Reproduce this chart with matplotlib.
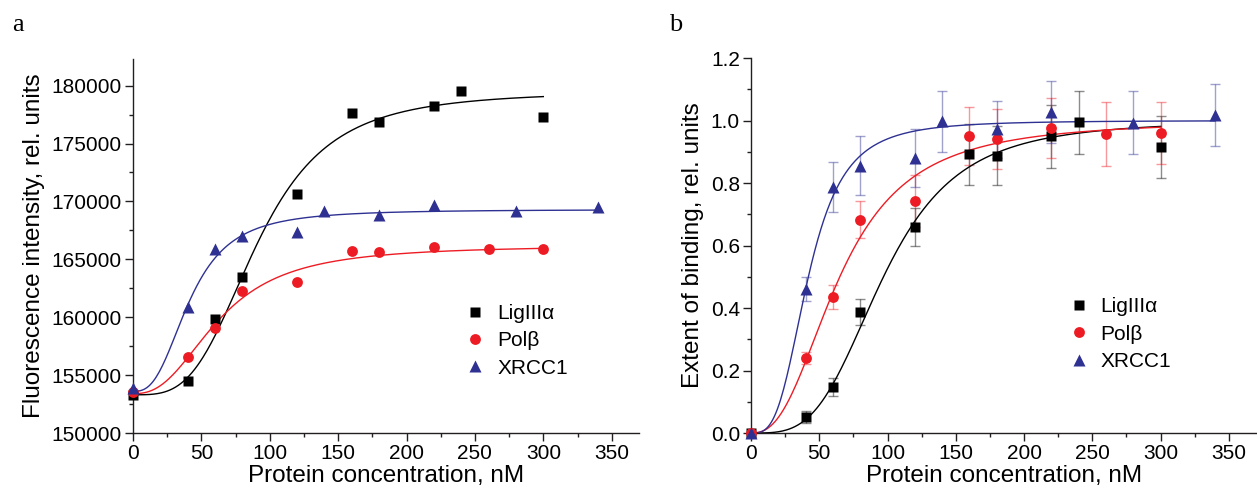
"""Binding of LigIIIa, Polb and XRCC1 to DNA: raw fluorescence (a) and extent of binding (b)."""

import matplotlib
matplotlib.use("Agg")
import matplotlib.pyplot as plt
import numpy as np
from matplotlib.ticker import MultipleLocator, FormatStrFormatter

plt.rcParams["font.family"] = ["Liberation Sans", "DejaVu Sans"]

SERIES = ["LigIII\u03b1", "Pol\u03b2", "XRCC1"]

# panel a: fluorescence intensity, rel. units
LIG_X_A = [0, 40, 60, 80, 120, 160, 180, 220, 240, 300]
LIG_Y_A = [153300, 154500, 159850, 163450, 170650, 177600, 176900, 178200, 179550, 177250]
POL_X_A = [0, 40, 60, 80, 120, 160, 180, 220, 260, 300]
POL_Y_A = [153500, 156600, 159100, 162300, 163050, 165750, 165650, 166050, 165850, 165900]
XRC_X_A = [0, 40, 60, 80, 120, 140, 180, 220, 280, 340]
XRC_Y_A = [153850, 160900, 165900, 167000, 167400, 169150, 168850, 169700, 169150, 169550]

# panel b: extent of binding, rel. units (mean, error)
LIG_X_B = [0, 40, 60, 80, 120, 160, 180, 220, 240, 300]
LIG_Y_B = [0.0, 0.052, 0.148, 0.387, 0.660, 0.892, 0.888, 0.949, 0.994, 0.915]
LIG_E_B = [0.0, 0.019, 0.029, 0.041, 0.060, 0.098, 0.094, 0.100, 0.100, 0.099]
POL_X_B = [0, 40, 60, 80, 120, 160, 180, 220, 260, 300]
POL_Y_B = [0.0, 0.239, 0.435, 0.682, 0.743, 0.951, 0.941, 0.975, 0.957, 0.959]
POL_E_B = [0.0, 0.019, 0.039, 0.059, 0.083, 0.093, 0.097, 0.096, 0.101, 0.099]
XRC_X_B = [0, 40, 60, 80, 120, 140, 180, 220, 280, 340]
XRC_Y_B = [0.0, 0.460, 0.786, 0.856, 0.881, 0.998, 0.972, 1.026, 0.993, 1.018]
XRC_E_B = [0.0, 0.038, 0.080, 0.095, 0.093, 0.098, 0.091, 0.099, 0.100, 0.100]

# Hill fits: (bottom, top, K, n, x_end)
FIT_A = [(153300, 179500, 91, 3.4, 300),
         (153400, 166200, 63, 2.5, 300),
         (153600, 169300, 41.5, 2.75, 340)]
FIT_B = [(0.0, 1.0, 97, 3.5, 300),
         (0.0, 1.0, 65, 2.5, 300),
         (0.0, 1.0, 42, 3.2, 340)]

COLORS = ["#000000", "#ed1c24", "#2e3192"]
MARKERS = [("s", 7.3), ("o", 7.8), ("^", 8.3)]
FS_TICK = 15
FS_LABEL = 17.5
FS_LEGEND = 15


def hill(x, bottom, top, k, n):
    return bottom + (top - bottom) * x ** n / (k ** n + x ** n)


def style_axes(ax):
    for side in ("top", "right"):
        ax.spines[side].set_visible(False)
    for side in ("left", "bottom"):
        ax.spines[side].set_linewidth(1.0)
        ax.spines[side].set_color("#231f20")
    ax.tick_params(which="major", direction="out", length=6, width=1.0,
                   labelsize=FS_TICK, pad=2, color="#231f20")
    ax.tick_params(which="minor", direction="out", length=3, width=1.0,
                   color="#231f20")
    ax.set_xlim(0, 370)
    ax.xaxis.set_major_locator(MultipleLocator(50))
    ax.xaxis.set_minor_locator(MultipleLocator(25))
    ax.set_xlabel("Protein concentration, nM", fontsize=FS_LABEL, labelpad=1)


def add_legend(ax, anchor):
    ax.legend(loc="upper left", bbox_to_anchor=anchor, frameon=False,
              fontsize=FS_LEGEND, handlelength=1.0, handletextpad=0.55,
              labelspacing=0.4, borderpad=0, borderaxespad=0, numpoints=1)


def main() -> None:
    fig = plt.figure(figsize=(12.57, 4.93), dpi=100)
    ax_a = fig.add_axes([0.1058, 0.1217, 0.4026, 0.7586])
    ax_b = fig.add_axes([0.5975, 0.1217, 0.4018, 0.7606])

    # ---- panel a
    data_a = [(LIG_X_A, LIG_Y_A), (POL_X_A, POL_Y_A), (XRC_X_A, XRC_Y_A)]
    for (xs, ys), fit, col, (mk, ms), name in zip(data_a, FIT_A, COLORS, MARKERS, SERIES):
        xf = np.linspace(0, fit[4], 300)
        ax_a.plot(xf, hill(xf, *fit[:4]), color=col, lw=1.0, zorder=2)
        ax_a.plot(xs, ys, mk, ms=ms, color=col, mec="none", label=name,
                  clip_on=False, zorder=3)
    ax_a.set_ylim(150000, 182300)
    ax_a.yaxis.set_major_locator(MultipleLocator(5000))
    ax_a.yaxis.set_minor_locator(MultipleLocator(2500))
    ax_a.set_ylabel("Fluorescence intensity, rel. units", fontsize=FS_LABEL, labelpad=5)
    style_axes(ax_a)
    add_legend(ax_a, (0.656, 0.345))

    # ---- panel b
    data_b = [(LIG_X_B, LIG_Y_B, LIG_E_B), (POL_X_B, POL_Y_B, POL_E_B),
              (XRC_X_B, XRC_Y_B, XRC_E_B)]
    for (xs, ys, es), fit, col, (mk, ms), name in zip(data_b, FIT_B, COLORS, MARKERS, SERIES):
        ax_b.errorbar(xs, ys, yerr=es, fmt="none", ecolor=col, alpha=0.45,
                      elinewidth=1.0, capsize=3.5, capthick=1.0, zorder=1)
        xf = np.linspace(0, fit[4], 300)
        ax_b.plot(xf, hill(xf, *fit[:4]), color=col, lw=1.0, zorder=2)
        ax_b.plot(xs, ys, mk, ms=ms, color=col, mec="none", label=name,
                  clip_on=False, zorder=3)
    ax_b.set_ylim(0, 1.2)
    ax_b.yaxis.set_major_locator(MultipleLocator(0.2))
    ax_b.yaxis.set_minor_locator(MultipleLocator(0.1))
    ax_b.yaxis.set_major_formatter(FormatStrFormatter("%.1f"))
    ax_b.set_ylabel("Extent of binding, rel. units", fontsize=FS_LABEL, labelpad=5)
    style_axes(ax_b)
    add_legend(ax_b, (0.628, 0.362))

    fig.text(18 / 1257, 1 - 25 / 493, "a", fontsize=19, family="Liberation Serif",
             ha="center", va="center")
    fig.text(676 / 1257, 1 - 25 / 493, "b", fontsize=19, family="Liberation Serif",
             ha="center", va="center")

    fig.savefig("out.png", dpi=100)


if __name__ == "__main__":
    main()
